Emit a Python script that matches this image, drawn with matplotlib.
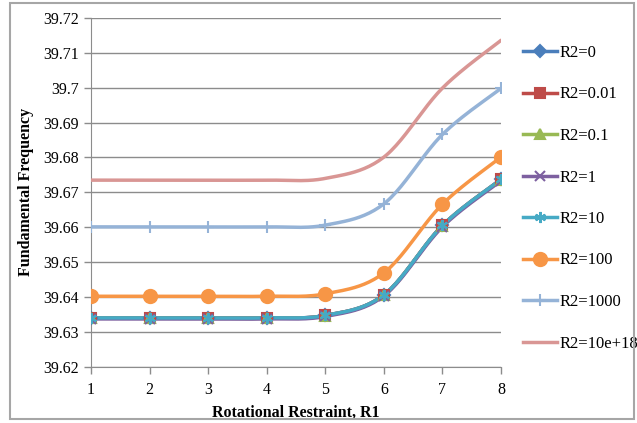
import numpy as np
import matplotlib
matplotlib.use("Agg")
import matplotlib.pyplot as plt
from matplotlib.patches import Rectangle
from matplotlib.ticker import FuncFormatter

# ---- data ----
r1 = [1, 2, 3, 4, 5, 6, 7, 8]
labels = ["R2=0", "R2=0.01", "R2=0.1", "R2=1", "R2=10", "R2=100", "R2=1000", "R2=10e+18"]
r2_0 = [39.6340, 39.6340, 39.6340, 39.6340, 39.6347, 39.6406, 39.6605, 39.6737]
r2_001 = [39.6340, 39.6340, 39.6340, 39.6340, 39.6347, 39.6406, 39.6605, 39.6737]
r2_01 = [39.6339, 39.6339, 39.6339, 39.6339, 39.6346, 39.6405, 39.6604, 39.6736]
r2_1 = [39.6337, 39.6337, 39.6337, 39.6337, 39.6344, 39.6403, 39.6601, 39.6733]
r2_10 = [39.6340, 39.6340, 39.6340, 39.6340, 39.6347, 39.6406, 39.6605, 39.6737]
r2_100 = [39.6402, 39.6402, 39.6402, 39.6402, 39.6409, 39.6469, 39.6666, 39.6801]
r2_1000 = [39.6601, 39.6601, 39.6601, 39.6601, 39.6606, 39.6667, 39.6866, 39.6998]
r2_inf = [39.6735, 39.6735, 39.6735, 39.6735, 39.6740, 39.6801, 39.6999, 39.7136]
series = [r2_0, r2_001, r2_01, r2_1, r2_10, r2_100, r2_1000, r2_inf]
yticks = [39.62, 39.63, 39.64, 39.65, 39.66, 39.67, 39.68, 39.69, 39.70, 39.71, 39.72]

colors = ["#4A7EBB", "#BE4B48", "#98B954", "#7D60A0", "#46AAC5", "#F79646", "#95B3D7", "#D99694"]
markers = ["D", "s", "^", "x", (6, 2, 0), "o", "+", None]
msizes = [6, 7, 7, 7, 8, 9.5, 9, 0]


def smooth(x, y, n=24):
    # Catmull-Rom (Excel-like smoothed line) for rendering
    x = np.asarray(x, float)
    y = np.asarray(y, float)
    px = np.concatenate([[x[0]], x, [x[-1]]])
    py = np.concatenate([[y[0]], y, [y[-1]]])
    xs, ys = [], []
    for i in range(1, len(px) - 2):
        p0, p1, p2, p3 = (np.array([px[j], py[j]]) for j in (i - 1, i, i + 1, i + 2))
        c1 = p1 + (p2 - p0) / 6
        c2 = p2 - (p3 - p1) / 6
        t = np.linspace(0, 1, n, endpoint=(i == len(px) - 3))[:, None]
        pts = (1 - t) ** 3 * p1 + 3 * (1 - t) ** 2 * t * c1 + 3 * (1 - t) * t ** 2 * c2 + t ** 3 * p2
        xs.append(pts[:, 0]); ys.append(pts[:, 1])
    return np.concatenate(xs), np.concatenate(ys)


plt.rcParams['font.family'] = ['Liberation Serif', 'DejaVu Serif']
fig = plt.figure(figsize=(6.37, 4.23), dpi=100)
ax = fig.add_axes([91 / 637, 1 - 366.7 / 423, 410 / 637, (366.7 - 18) / 423])

handles = []
for s, lab, c, m, ms in zip(series, labels, colors, markers, msizes):
    sx, sy = smooth(r1, s)
    ax.plot(sx, sy, color=c, lw=2.5, solid_capstyle='round', zorder=3)
    if m is not None:
        ax.plot(r1, s, ls='none', marker=m, ms=ms, color=c, mec=c, mew=1.5, zorder=4)
    h, = ax.plot([], [], color=c, lw=2.5, marker=m, ms=ms, mec=c, mew=1.5)
    handles.append(h)

ax.set_xlim(1, 8)
ax.set_ylim(39.62, 39.72)
ax.set_yticks(yticks)
ax.set_xticks(r1)
ax.yaxis.set_major_formatter(FuncFormatter(lambda v, p: f"{v:.2f}".rstrip('0').rstrip('.')))
ax.grid(axis='y', color='#8C8C8C', lw=1)
ax.set_axisbelow(True)
for sp in ['top', 'right']:
    ax.spines[sp].set_visible(False)
for sp in ['left', 'bottom']:
    ax.spines[sp].set_color('#8C8C8C')
ax.tick_params(axis='both', colors='#8C8C8C', labelcolor='black', labelsize=11.5, length=5, width=1)
ax.tick_params(axis='x', pad=6)
ax.set_xlabel("Rotational Restraint, R1", fontsize=11.5, fontweight='bold', labelpad=5)
ax.set_ylabel("Fundamental Frequency", fontsize=11.5, fontweight='bold', labelpad=7)

fig.legend(handles, labels, loc='upper left', bbox_to_anchor=(523 / 637, 1 - 45 / 423),
           frameon=False, fontsize=12, handlelength=2.05, handletextpad=0.12,
           labelspacing=1.53, borderaxespad=0, borderpad=0)

fig.patches.append(Rectangle((10 / 637, 4 / 423), 624 / 637, 416 / 423, transform=fig.transFigure,
                             fill=False, edgecolor='#A6A6A6', lw=1.5, zorder=10))
fig.savefig("out.png", dpi=100)
